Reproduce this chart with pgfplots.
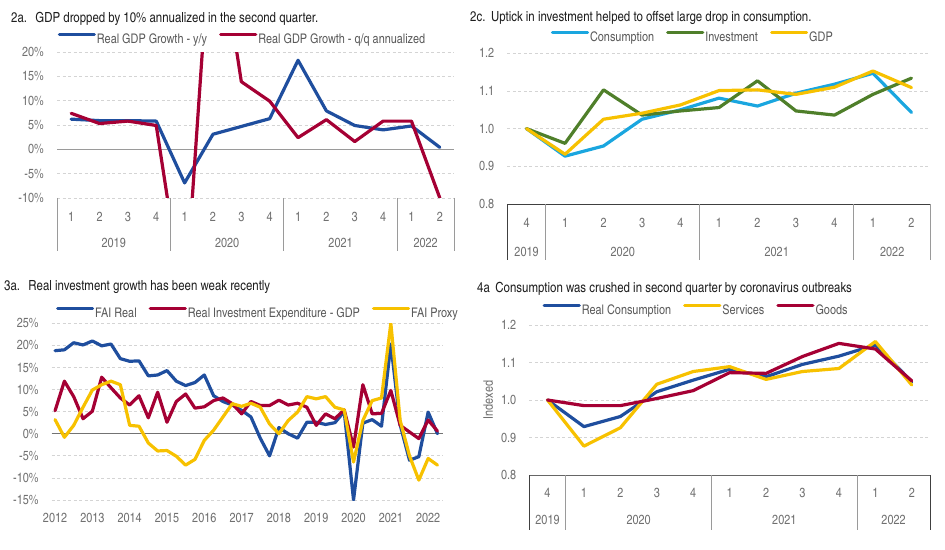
\documentclass[border=0pt]{standalone}
\usepackage{fontspec}
\setmainfont{texgyreheroscn}[Extension=.otf,UprightFont=*-regular,BoldFont=*-bold,ItalicFont=*-italic,BoldItalicFont=*-bolditalic]
\usepackage{pgfplots}
\usepackage{pgfplotstable}
\pgfplotsset{compat=1.18}

\definecolor{cblue}{HTML}{1F4E9E}
\definecolor{cred}{HTML}{A50034}
\definecolor{ccyan}{HTML}{1AA6DF}
\definecolor{cgreen}{HTML}{4F7F2A}
\definecolor{cgold}{HTML}{F7C100}
\definecolor{labgray}{HTML}{707070}
\definecolor{leggray}{HTML}{5A5A5A}
\definecolor{gridgray}{HTML}{D4D4D4}
\definecolor{sepgray}{HTML}{9A9A9A}
\definecolor{titleblack}{HTML}{1E1E1E}

\newcommand\tickfont{\fontsize{13.3}{15}\selectfont}
\newcommand\titlefont{\fontsize{14}{16}\selectfont}

% quarterly, 2012Q1 - 2022Q2
\pgfplotstableread{
t       fai    rie    proxy
2012.00 18.8   5.2    3.2
2012.25 19.0  11.9   -0.8
2012.50 20.6   8.4    1.9
2012.75 20.1   3.4    6.0
2013.00 21.0   5.1    9.9
2013.25 19.9  12.8   11.1
2013.50 20.3  10.4   11.9
2013.75 17.0   8.1   11.1
2014.00 16.4   6.5    1.9
2014.25 16.5   8.6    1.7
2014.50 13.1   3.6   -2.1
2014.75 13.3   9.4   -3.9
2015.00 14.3   2.6   -3.8
2015.25 11.9   7.3   -5.1
2015.50 10.9   9.0   -7.1
2015.75 11.6   5.8   -5.8
2016.00 13.3   6.1   -1.5
2016.25  8.6   7.5    0.8
2016.50  7.3   8.1    3.8
2016.75  6.5   6.8    6.8
2017.00  5.3   4.5    6.2
2017.25  3.8   7.3    6.9
2017.50 -1.0   6.4    6.0
2017.75 -5.0   6.4    2.2
2018.00  1.4   7.6    0.0
2018.25  0.0   6.5    3.0
2018.50 -1.0   6.9    4.9
2018.75  2.6   6.0    8.4
2019.00  2.6   1.9    7.9
2019.25  2.1   4.5    8.4
2019.50  2.5   3.4    6.0
2019.75  5.0   5.4    5.4
2020.00 -15.0 -3.0   -6.4
2020.25  2.4  11.1    3.0
2020.50  3.2   4.5    7.5
2020.75  1.7   4.6    8.1
2021.00 20.3   9.8   25.0
2021.25  2.0   1.9    3.0
2021.50 -6.0   0.4   -5.0
2021.75 -5.2  -1.1  -10.5
2022.00  4.9   3.1   -5.6
2022.25  0.0   0.6   -7.1
}\faitable

\tikzset{
  sep/.style={sepgray, line width=1bp},
  sepdark/.style={black!75, line width=1bp},
  yearlab/.style={anchor=base, font=\tickfont, text=labgray, inner sep=0pt},
  ttl/.style={anchor=base west, font=\titlefont, text=titleblack, inner sep=0pt},
}

\pgfplotsset{
  panel/.style={
    scale only axis, anchor=north west, clip mode=individual,
    axis line style={draw=none}, major tick length=0pt,
    ymajorgrids, grid style={gridgray, line width=0.7bp, dash pattern=on 3bp off 2.5bp},
    tick label style={font=\tickfont, text=labgray, inner sep=0pt},
    yticklabel style={anchor=east, xshift=-13bp},
    legend style={draw=none, fill=none, legend columns=-1, anchor=center, font=\tickfont,
      nodes={text=leggray, inner sep=1bp},
      /tikz/every even column/.append style={column sep=11bp}},
    legend image code/.code={\draw[##1] (0bp,4.6bp) -- (35bp,4.6bp);},
    every axis plot/.append style={line width=3.2bp, line join=round, line cap=round},
  },
}

\begin{document}
\begin{tikzpicture}
\useasboundingbox (0bp,0bp) rectangle (945bp,-550bp);

\node[ttl] at (11bp,-22bp) {2a.\hspace{0.6em}GDP dropped by 10\% annualized in the second quarter.};
\node[ttl] at (470bp,-21bp) {2c.\hspace{0.4em}Uptick in investment helped to offset large drop in consumption.};
\node[ttl] at (4bp,-290.7bp) {3a.\hspace{0.6em}Real investment growth has been weak recently};
\node[ttl] at (477bp,-292.7bp) {4a\hspace{0.4em}Consumption was crushed in second quarter by coronavirus outbreaks};

% ---------- 2a ----------
\begin{axis}[panel, at={(57bp,-52bp)}, width=397bp, height=146bp,
  xmin=-0.5, xmax=13.5, ymin=-10, ymax=20,
  xtick={0,...,13}, xticklabels={1,2,3,4,1,2,3,4,1,2,3,4,1,2},
  xticklabel style={anchor=base, yshift=-23.5bp},
  ytick={-10,-5,0,5,10,15,20},
  yticklabels={-10\%,-5\%,0\%,5\%,10\%,15\%,20\%},
  legend style={at={(0.466,1.089)}},
]
\draw[sepgray, line width=1.2bp] (axis cs:-0.5,0) -- (axis cs:13.5,0);
\addplot[cblue] coordinates {(0,6.2)(1,5.9)(2,5.9)(3,5.8)(4,-6.9)(5,3.1)(6,4.7)(7,6.3)(8,18.3)(9,7.9)(10,4.9)(11,4.0)(12,4.8)(13,0.4)};
\addlegendentry{Real GDP Growth - y/y}
\addplot[cred] coordinates {(0,7.4)(1,5.3)(2,5.8)(3,4.9)(4,-33)(5,52)(6,13.9)(7,9.9)(8,2.4)(9,6.1)(10,1.6)(11,5.8)(12,5.8)(13,-10)};
\addlegendentry{Real GDP Growth - q/q annualized}
\draw[sep] (axis cs:-0.5,-10) -- ([yshift=-53bp]axis cs:-0.5,-10);
\draw[sep] (axis cs:3.5,-10) -- ([yshift=-53bp]axis cs:3.5,-10);
\draw[sep] (axis cs:7.5,-10) -- ([yshift=-53bp]axis cs:7.5,-10);
\draw[sep] (axis cs:11.5,-10) -- ([yshift=-53bp]axis cs:11.5,-10);
\draw[sep] (axis cs:13.5,-10) -- ([yshift=-53bp]axis cs:13.5,-10);
\node[yearlab] at ([yshift=-49.5bp]axis cs:1.5,-10) {2019};
\node[yearlab] at ([yshift=-49.5bp]axis cs:5.5,-10) {2020};
\node[yearlab] at ([yshift=-49.5bp]axis cs:9.5,-10) {2021};
\node[yearlab] at ([yshift=-49.5bp]axis cs:12.5,-10) {2022};
\end{axis}

% ---------- 2c ----------
\begin{axis}[panel, at={(507.3bp,-53.3bp)}, width=423.4bp, height=150.7bp,
  xmin=-0.5, xmax=10.5, ymin=0.8, ymax=1.2,
  xtick={0,...,10}, xticklabels={4,1,2,3,4,1,2,3,4,1,2},
  xticklabel style={anchor=base, yshift=-23.5bp},
  ytick={0.8,0.9,1.0,1.1,1.2}, yticklabels={0.8,0.9,1.0,1.1,1.2},
  legend style={at={(0.437,1.108)}},
]
\addplot[ccyan] coordinates {(0,1.000)(1,0.927)(2,0.954)(3,1.025)(4,1.050)(5,1.081)(6,1.060)(7,1.094)(8,1.118)(9,1.147)(10,1.043)};
\addlegendentry{Consumption}
\addplot[cgreen] coordinates {(0,1.000)(1,0.961)(2,1.103)(3,1.036)(4,1.047)(5,1.056)(6,1.127)(7,1.047)(8,1.036)(9,1.091)(10,1.134)};
\addlegendentry{Investment}
\addplot[cgold] coordinates {(0,1.000)(1,0.932)(2,1.025)(3,1.041)(4,1.063)(5,1.101)(6,1.103)(7,1.091)(8,1.110)(9,1.153)(10,1.109)};
\addlegendentry{GDP}
\draw[sepdark] (axis cs:-0.5,0.8) -- (axis cs:10.5,0.8);
\draw[sepdark] (axis cs:-0.5,0.8) -- ([yshift=-56bp]axis cs:-0.5,0.8);
\draw[sep] (axis cs:0.5,0.8) -- ([yshift=-56bp]axis cs:0.5,0.8);
\draw[sep] (axis cs:4.5,0.8) -- ([yshift=-56bp]axis cs:4.5,0.8);
\draw[sep] (axis cs:8.5,0.8) -- ([yshift=-56bp]axis cs:8.5,0.8);
\draw[sep] (axis cs:10.5,0.8) -- ([yshift=-56bp]axis cs:10.5,0.8);
\node[yearlab] at ([yshift=-52.5bp]axis cs:0,0.8) {2019};
\node[yearlab] at ([yshift=-52.5bp]axis cs:2.5,0.8) {2020};
\node[yearlab] at ([yshift=-52.5bp]axis cs:6.5,0.8) {2021};
\node[yearlab] at ([yshift=-52.5bp]axis cs:9.5,0.8) {2022};
\end{axis}

% ---------- 3a ----------
\begin{axis}[panel, at={(51.7bp,-323.3bp)}, width=391bp, height=176.7bp,
  xmin=2011.91, xmax=2022.39, ymin=-15, ymax=25,
  xtick={2012,2013,2014,2015,2016,2017,2018,2019,2020,2021,2022},
  xticklabels={2012,2013,2014,2015,2016,2017,2018,2019,2020,2021,2022},
  xticklabel style={anchor=base, yshift=-22.5bp},
  ytick={-15,-10,-5,0,5,10,15,20,25},
  yticklabels={-15\%,-10\%,-5\%,0\%,5\%,10\%,15\%,20\%,25\%},
  legend style={at={(0.526,1.058)}},
]
\draw[black!55, line width=1.1bp] (axis cs:2011.91,0) -- (axis cs:2022.39,0);
\addplot[cblue] table[x=t, y=fai] {\faitable};
\addlegendentry{FAI Real}
\addplot[cred] table[x=t, y=rie] {\faitable};
\addlegendentry{Real Investment Expenditure - GDP}
\addplot[cgold] table[x=t, y=proxy] {\faitable};
\addlegendentry{FAI Proxy}
\end{axis}

% ---------- 4a ----------
\begin{axis}[panel, at={(529.3bp,-325bp)}, width=400.7bp, height=150bp,
  xmin=-0.5, xmax=10.5, ymin=0.8, ymax=1.2,
  xtick={0,...,10}, xticklabels={4,1,2,3,4,1,2,3,4,1,2},
  xticklabel style={anchor=base, yshift=-22.5bp},
  ytick={0.8,0.9,1.0,1.1,1.2}, yticklabels={0.8,0.9,1.0,1.1,1.2},
  legend style={at={(0.415,1.1)}},
]
\addplot[cblue] coordinates {(0,1.000)(1,0.929)(2,0.956)(3,1.022)(4,1.053)(5,1.082)(6,1.062)(7,1.095)(8,1.117)(9,1.147)(10,1.049)};
\addlegendentry{Real Consumption}
\addplot[cgold] coordinates {(0,1.000)(1,0.877)(2,0.926)(3,1.042)(4,1.076)(5,1.089)(6,1.055)(7,1.076)(8,1.084)(9,1.156)(10,1.040)};
\addlegendentry{Services}
\addplot[cred] coordinates {(0,1.000)(1,0.985)(2,0.985)(3,1.004)(4,1.025)(5,1.073)(6,1.071)(7,1.116)(8,1.151)(9,1.136)(10,1.051)};
\addlegendentry{Goods}
\draw[black!60, line width=1bp] (axis cs:-0.5,0.8) -- (axis cs:10.5,0.8);
\draw[sepdark] (axis cs:-0.5,0.8) -- ([yshift=-55bp]axis cs:-0.5,0.8);
\draw[sep] (axis cs:0.5,0.8) -- ([yshift=-55bp]axis cs:0.5,0.8);
\draw[sep] (axis cs:4.5,0.8) -- ([yshift=-55bp]axis cs:4.5,0.8);
\draw[sep] (axis cs:8.5,0.8) -- ([yshift=-55bp]axis cs:8.5,0.8);
\draw[sepdark] (axis cs:10.5,0.8) -- ([yshift=-55bp]axis cs:10.5,0.8);
\node[yearlab] at ([yshift=-49.5bp]axis cs:0,0.8) {2019};
\node[yearlab] at ([yshift=-49.5bp]axis cs:2.5,0.8) {2020};
\node[yearlab] at ([yshift=-49.5bp]axis cs:6.5,0.8) {2021};
\node[yearlab] at ([yshift=-49.5bp]axis cs:9.5,0.8) {2022};
\node[rotate=90, font=\tickfont, text=labgray, inner sep=0pt] at ([xshift=-41bp]axis cs:-0.5,1.0) {Indexed};
\end{axis}
\end{tikzpicture}
\end{document}
